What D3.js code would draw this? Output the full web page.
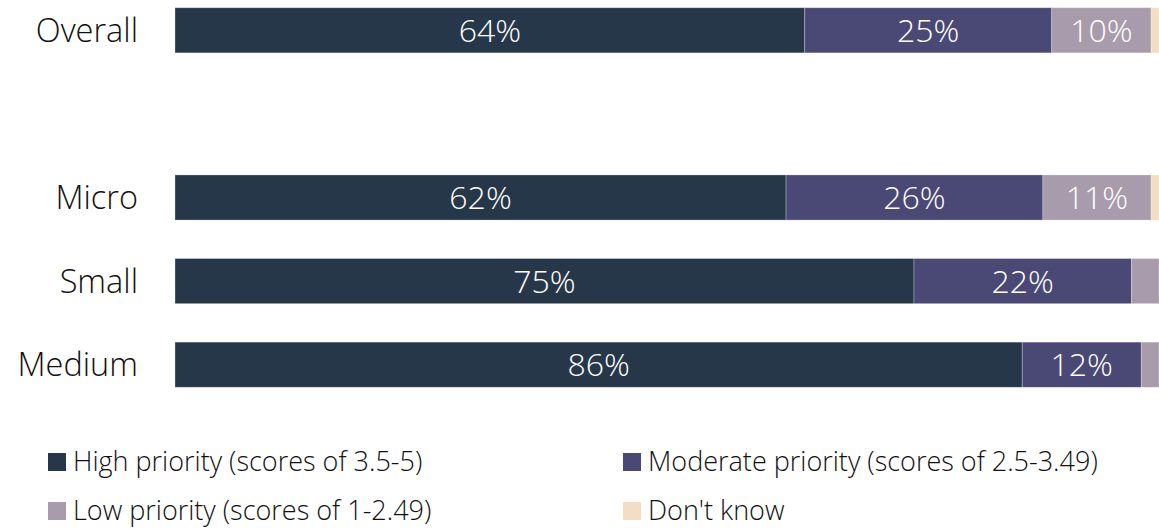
<!DOCTYPE html>
<html>
<head>
<meta charset="utf-8">
<script src="https://cdn.jsdelivr.net/npm/d3@7"></script>
<style>
  html, body { margin: 0; padding: 0; background: #fff; }
  svg { display: block; font-family: "Open Sans", "Noto Sans", sans-serif; font-weight: 300; }
</style>
</head>
<body>
<div id="chart"></div>
<script>
// categories (blank one keeps the gap under Overall)
const categories = ['Overall', '', 'Micro', 'Small', 'Medium'];
const seriesNames = [
  'High priority (scores of 3.5-5)',
  'Moderate priority (scores of 2.5-3.49)',
  'Low priority (scores of 1-2.49)',
  "Don't know"
];
const seriesColors = ['#27374a', '#4a4874', '#a89bab', '#f3ddc4'];

// percent values per category
const highValues     = [64.0, null, 62.1, 75.1, 86.1];
const moderateValues = [25.1, null, 26.1, 22.1, 12.1];
const lowValues      = [10.1, null, 11.0, 2.8, 1.8];
const dontKnowValues = [0.8, null, 0.8, 0, 0];

const width = 1159, height = 529;
const svg = d3.select('#chart').append('svg')
  .attr('width', width)
  .attr('height', height);

const rows = categories.map((c, i) => ({
  cat: c,
  vals: [highValues[i], moderateValues[i], lowValues[i], dontKnowValues[i]]
})).filter(d => d.vals[0] != null);

const x = d3.scaleLinear().domain([0, 100]).range([175, 1159]);
const y = d3.scaleBand().domain(categories).range([-11.5, 406.5]).paddingInner(0.46).paddingOuter(0.23);

// stack segments
const segs = [];
rows.forEach(r => {
  let acc = 0;
  r.vals.forEach((v, k) => {
    segs.push({ cat: r.cat, k, v, x0: acc, x1: acc + v });
    acc += v;
  });
});

const g = svg.append('g');
g.selectAll('rect')
  .data(segs.filter(d => d.v > 0))
  .join('rect')
  .attr('x', d => x(d.x0))
  .attr('y', d => y(d.cat))
  .attr('width', d => x(d.x1) - x(d.x0))
  .attr('height', y.bandwidth())
  .attr('fill', d => seriesColors[d.k])
  .attr('stroke', '#ffffff')
  .attr('stroke-opacity', 0.35)
  .attr('stroke-width', 0.8);

g.selectAll('text.val')
  .data(segs.filter(d => d.v >= 5))
  .join('text')
  .attr('class', 'val')
  .attr('x', d => (x(d.x0) + x(d.x1)) / 2)
  .attr('y', d => y(d.cat) + y.bandwidth() / 2)
  .attr('dy', '0.36em')
  .attr('text-anchor', 'middle')
  .attr('fill', '#fff')
  .attr('font-size', 32)
  .text(d => Math.round(d.v) + '%');

// category labels
svg.append('g').selectAll('text')
  .data(rows)
  .join('text')
  .attr('x', 138)
  .attr('y', d => y(d.cat) + y.bandwidth() / 2)
  .attr('dy', '0.36em')
  .attr('text-anchor', 'end')
  .attr('fill', '#111')
  .attr('font-size', 32.5)
  .text(d => d.cat);

// legend
const legPos = [[48, 462], [623, 462], [48, 511], [623, 511]];
const leg = svg.append('g').selectAll('g')
  .data(seriesNames)
  .join('g')
  .attr('transform', (d, i) => `translate(${legPos[i][0]},${legPos[i][1]})`);
leg.append('rect')
  .attr('x', 0).attr('y', -9)
  .attr('width', 18).attr('height', 18)
  .attr('fill', (d, i) => seriesColors[i]);
leg.append('text')
  .attr('x', 25)
  .attr('dy', '0.35em')
  .attr('font-size', 27)
  .attr('fill', '#111')
  .text(d => d);
</script>
</body>
</html>
